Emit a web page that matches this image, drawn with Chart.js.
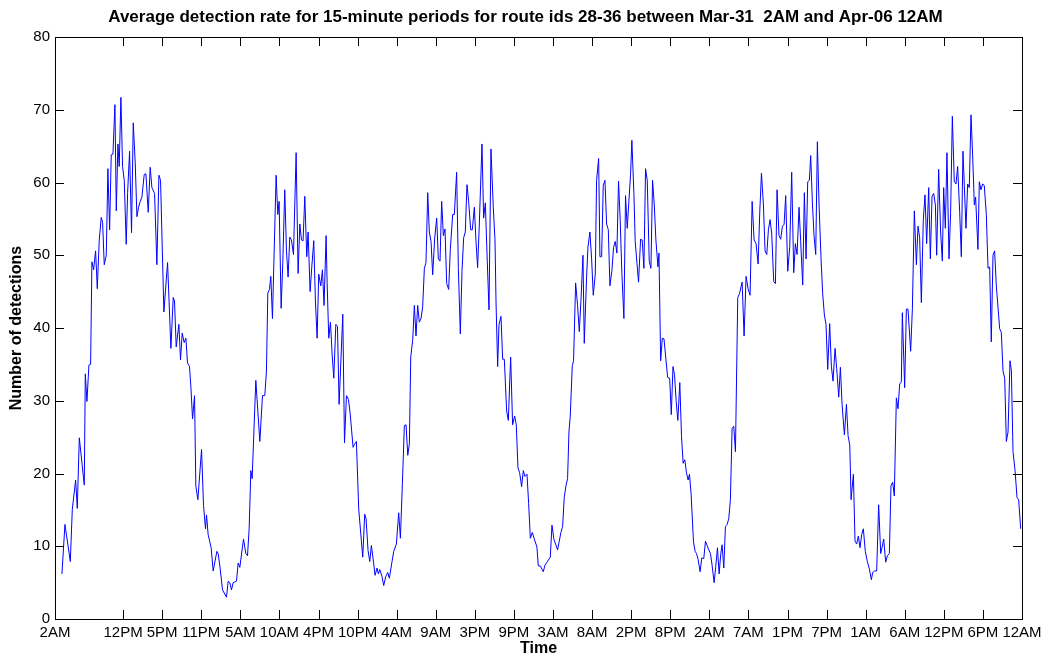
<!DOCTYPE html>
<html>
<head>
<meta charset="UTF-8">
<title>Average detection rate</title>
<script src="https://cdn.jsdelivr.net/npm/chart.js"></script>
<style>
    body { margin: 0; background: #ffffff; }
    canvas { display: block; }
</style>
</head>
<body>
<canvas id="rateChart" width="1051" height="658"></canvas>
<script>
const hours = [
    1.02,1.46,2.25,2.54,3.03,3.27,3.57,4.30,4.45,4.69,4.98,5.23,5.42,5.67,5.96,6.21,6.50,6.79,6.99,7.23,7.53,7.77,8.02,8.26,8.51,8.80,9.00,9.24,9.43,9.68,9.92,10.17,10.46,10.66,10.95,11.24,11.49,11.78,12.03,12.27,12.52,
    12.76,13.10,13.35,13.69,13.98,14.23,14.62,14.96,15.26,15.50,15.99,16.53,17.02,17.36,17.55,17.80,18.19,18.43,18.68,18.97,19.22,19.46,19.75,19.95,20.20,20.49,20.68,20.98,21.52,21.81,22.10,22.25,22.49,22.93,23.23,23.77,23.96,24.26,24.60,25.18,
    25.43,25.67,25.92,26.16,26.65,26.90,27.14,27.68,28.02,28.27,28.51,28.76,28.95,29.49,30.08,30.47,30.81,31.05,31.25,31.49,31.69,31.93,32.47,32.72,32.91,33.21,33.45,33.74,33.99,34.23,34.48,34.72,35.02,35.41,35.70,35.95,36.19,36.43,36.68,36.97,37.17,37.46,37.71,38.00,38.24,38.49,
    38.73,39.03,39.27,39.51,39.81,39.96,40.20,40.45,40.70,40.94,41.24,41.48,41.72,42.26,42.51,42.80,43.09,43.34,43.77,43.97,44.26,44.60,45.19,45.48,45.68,45.97,46.22,46.46,46.71,47.00,47.29,47.49,47.69,48.03,48.27,48.56,48.86,49.10,49.49,49.74,50.13,50.47,50.72,51.01,51.30,51.55,
    51.80,52.04,52.24,52.53,52.77,53.01,53.26,53.50,53.75,53.99,54.24,54.48,54.73,54.97,55.22,55.46,55.76,56.05,56.29,56.54,56.78,57.03,57.27,57.52,57.81,58.05,58.40,58.64,58.98,59.23,59.52,59.77,60.01,60.25,60.50,60.74,61.04,61.28,61.58,61.82,62.06,62.31,62.70,62.94,63.19,63.48,63.73,64.02,64.36,64.61,
    64.76,65.00,65.20,65.49,65.74,65.98,66.32,66.57,66.91,67.20,67.50,67.74,67.98,68.23,68.52,68.77,69.01,69.31,69.55,69.80,70.09,70.38,70.77,70.97,71.27,71.70,71.95,72.24,72.73,72.98,73.27,73.51,73.80,74.05,74.29,74.54,74.78,75.03,75.27,75.47,75.66,75.96,76.15,76.45,76.74,76.99,77.23,77.53,77.72,
    78.06,78.26,78.55,78.80,79.04,79.34,79.53,79.83,80.02,80.27,80.51,80.76,81.00,81.25,81.49,81.78,82.02,82.27,82.51,82.75,83.00,83.24,83.54,83.78,84.03,84.27,84.52,84.71,85.01,85.20,85.45,85.69,85.99,86.23,86.48,86.72,86.97,87.26,87.51,87.75,88.00,88.24,88.54,88.69,88.94,89.18,89.43,89.65,89.97,90.26,90.50,90.75,
    90.97,91.22,91.46,91.75,92.00,92.24,92.48,92.73,92.97,93.17,93.41,93.76,94.00,94.20,94.44,94.73,94.98,95.27,95.52,95.76,96.01,96.25,96.49,96.79,97.03,97.28,97.52,97.77,97.96,98.21,98.45,98.70,98.94,99.18,99.43,99.67,99.92,100.26,100.51,100.90,101.19,101.48,101.78,102.07,102.37,102.66,102.95,103.25,103.49,103.74,
    104.03,104.27,104.52,104.76,105.01,105.25,105.54,105.79,106.03,106.32,106.57,106.81,107.06,107.30,107.60,107.89,108.18,108.48,108.72,108.97,109.26,109.50,109.80,110.04,110.29,110.53,110.78,110.97,111.22,111.46,111.71,111.95,112.20,112.49,112.73,112.98,113.22,113.47,113.76,114.01,114.25,114.55,114.79,115.09,115.33,115.58,115.92,116.22,116.46,116.71,116.90,
    117.24,117.48,117.72,117.97,118.21,118.46,118.70,118.99,119.29,119.58,119.88,120.07,120.37,120.66,120.95,121.25,121.44,121.69,121.98,122.23,122.52,122.76,123.01,123.25,123.55,123.79,124.04,124.28,124.43,124.77,125.02,125.26,125.65,125.90,126.19,126.49,126.73,126.97,127.22,127.51,127.76,128.00,128.30,128.54,128.79,129.03,129.28,129.47,129.76,
    130.05,130.30,130.50,130.74,130.98,131.28,131.52,131.77,132.06,132.31,132.55,132.85,133.09,133.33,133.53,133.77,134.02,134.26,134.51,134.75,135.00,135.19,135.53,135.73,135.97,136.22,136.46,136.76,137.01,137.25,137.49,137.74,137.98,138.23,138.72,138.96,139.21,139.46,139.70,139.95,140.24,140.44,140.68,140.98,141.27,141.51,141.81
];

// number of detections at each of those times
const detections = [
    6.2,13.0,7.9,15.1,19.1,15.2,24.9,18.4,33.7,29.9,34.9,35.0,49.1,48.0,50.6,45.4,52.1,55.2,54.5,48.7,50.0,61.9,53.5,63.8,63.9,70.7,56.1,65.3,62.2,71.7,62.2,60.3,51.5,58.5,64.3,53.1,68.2,62.7,55.3,56.6,57.4,
    58.0,61.1,61.2,55.9,62.1,59.3,58.5,48.7,61.0,60.3,42.2,49.0,37.2,44.2,43.7,37.4,40.5,35.6,39.3,38.0,38.6,35.2,34.7,32.0,27.5,30.7,18.3,16.4,23.3,15.6,12.4,14.3,11.6,9.8,6.6,9.3,9.0,6.9,4.0,3.0,
    5.2,5.0,4.0,5.0,5.2,7.7,7.1,11.0,9.0,8.7,12.4,20.4,19.3,32.8,24.4,30.7,30.7,34.1,44.8,45.3,47.1,41.3,61.0,55.6,57.4,42.7,49.0,59.0,50.6,47.0,52.5,52.1,50.1,64.1,47.5,54.3,52.1,52.0,58.1,49.8,53.2,45.0,48.4,52.0,43.7,38.6,
    47.4,45.8,48.0,43.1,52.7,46.3,38.6,40.8,36.3,33.1,40.5,40.2,29.5,41.9,24.2,30.7,30.2,28.3,23.6,24.0,24.4,15.1,8.5,14.4,13.8,9.4,7.9,10.1,8.3,6.0,7.0,6.2,6.8,5.8,4.6,5.8,6.4,5.6,7.9,9.3,10.3,14.6,11.1,18.5,26.6,26.7,
    22.5,24.1,36.0,38.4,43.1,38.9,43.1,40.8,41.3,42.9,48.2,49.0,58.6,53.2,51.9,47.3,52.4,55.1,49.5,49.2,57.4,52.7,53.6,46.1,45.3,50.8,55.6,55.6,61.4,48.2,39.2,47.9,52.4,53.2,59.7,57.4,53.5,53.5,56.6,51.9,48.3,54.3,65.3,55.1,57.2,49.1,42.5,64.6,56.6,52.1,
    43.7,34.7,40.5,41.6,35.7,35.7,28.6,27.3,36.0,26.7,27.9,26.7,20.8,20.1,18.2,20.4,19.6,19.9,15.9,11.1,11.9,11.0,9.9,7.3,7.3,6.5,7.4,7.8,8.5,12.9,10.9,10.3,9.5,10.7,11.9,12.7,16.7,18.3,19.3,25.7,27.8,34.8,35.5,46.2,43.1,39.5,43.7,50.0,37.9,
    46.9,51.1,53.2,49.5,44.5,47.4,60.3,63.3,49.8,49.8,59.6,60.3,54.3,53.5,45.8,47.9,51.1,51.9,50.3,60.2,54.8,47.6,41.3,58.2,53.7,57.4,61.1,65.8,58.5,51.9,49.0,46.3,52.2,52.1,48.2,61.9,60.3,49.2,48.2,60.3,56.9,52.1,48.4,50.3,35.5,38.6,38.5,36.3,33.2,33.1,28.1,34.7,
    33.6,29.9,27.3,32.5,25.1,21.4,21.9,20.1,19.1,19.9,17.2,10.6,9.3,9.0,8.2,6.5,8.4,8.3,10.7,10.1,9.5,9.0,7.4,5.0,7.2,9.8,6.2,9.0,10.2,7.0,12.7,13.0,13.8,16.4,26.2,26.5,23.0,44.2,44.7,46.3,38.9,47.1,45.4,44.5,57.4,52.1,51.6,48.8,55.9,61.3,
    56.9,50.6,50.1,53.5,54.9,52.9,46.4,46.1,59.0,52.7,52.2,54.0,54.2,58.2,47.8,51.1,61.4,47.6,51.6,50.1,56.6,51.9,45.9,58.6,49.5,60.1,60.3,63.7,57.2,52.7,50.1,65.6,56.9,49.5,44.7,41.8,40.5,34.3,40.6,34.7,32.7,37.2,34.4,30.5,34.6,29.5,25.3,29.5,25.2,23.9,16.4,
    19.9,10.7,10.3,11.4,9.8,11.6,12.4,9.3,7.9,6.9,5.4,6.4,6.6,6.6,15.7,9.0,9.8,11.0,7.8,8.7,9.0,18.3,18.8,16.9,30.4,28.9,32.3,32.6,42.1,31.8,42.6,42.6,36.8,42.6,56.1,48.7,54.0,52.4,43.5,54.9,58.3,51.6,59.3,49.5,58.1,58.5,56.9,50.0,61.8,
    53.2,49.2,59.3,53.7,64.1,49.5,55.9,69.1,60.1,59.8,62.2,55.9,49.8,64.3,59.6,53.7,59.8,59.3,69.3,63.8,56.9,58.0,50.8,60.1,59.0,59.8,59.6,55.6,48.2,48.4,38.1,50.0,50.6,45.8,39.9,39.4,34.1,33.1,24.4,25.7,35.5,34.1,23.0,20.4,16.7,16.4,12.4
];

// x tick positions (hours) and their labels
const tickHours = [0, 10, 15.74, 21.48, 27.22, 32.96, 38.70, 44.43, 50.17, 55.91, 61.65, 67.39, 73.13,
    78.87, 84.61, 90.35, 96.09, 101.83, 107.57, 113.30, 119.04, 124.78, 130.52, 136.26, 142];
const tickLabels = ['2AM', '12PM', '5PM', '11PM', '5AM', '10AM', '4PM', '10PM', '4AM', '9AM', '3PM', '9PM', '3AM',
    '8AM', '2PM', '8PM', '2AM', '7AM', '1PM', '7PM', '1AM', '6AM', '12PM', '6PM', '12AM'];
const yTicks = [0, 10, 20, 30, 40, 50, 60, 70, 80];

Chart.defaults.font.family = "'Liberation Sans', Arial, Helvetica, sans-serif";
Chart.defaults.color = '#000000';

// box round the plot with inward ticks on all four sides
const boxPlugin = {
    id: 'boxPlugin',
    afterDatasetsDraw(chart) {
        const ctx = chart.ctx;
        const a = chart.chartArea;
        const xs = chart.scales.x;
        const ys = chart.scales.y;
        const len = 9;
        ctx.save();
        ctx.strokeStyle = '#000000';
        ctx.lineWidth = 1;
        ctx.beginPath();
        tickHours.forEach(v => {
            const px = Math.round(xs.getPixelForValue(v)) + 0.5;
            ctx.moveTo(px, a.bottom); ctx.lineTo(px, a.bottom - len);
            ctx.moveTo(px, a.top); ctx.lineTo(px, a.top + len);
        });
        yTicks.forEach(v => {
            const py = Math.round(ys.getPixelForValue(v)) + 0.5;
            ctx.moveTo(a.left, py); ctx.lineTo(a.left + len, py);
            ctx.moveTo(a.right, py); ctx.lineTo(a.right - len, py);
        });
        ctx.stroke();
        ctx.strokeRect(Math.round(a.left) + 0.5, Math.round(a.top) + 0.5,
            Math.round(a.right - a.left), Math.round(a.bottom - a.top));
        ctx.restore();
    }
};

const ctx = document.getElementById('rateChart').getContext('2d');
new Chart(ctx, {
    type: 'line',
    data: {
        datasets: [{
            data: hours.map((h, i) => ({ x: h, y: detections[i] })),
            borderColor: '#0000ff',
            borderWidth: 1,
            pointRadius: 0,
            tension: 0,
            fill: false
        }]
    },
    options: {
        responsive: false,
        devicePixelRatio: 1,
        animation: false,
        layout: { padding: 0 },
        plugins: {
            legend: { display: false },
            tooltip: { enabled: false },
            title: {
                display: true,
                text: 'Average detection rate for 15-minute periods for route ids 28-36 between Mar-31  2AM and Apr-06 12AM',
                font: { size: 17, weight: 'bold' },
                color: '#000000',
                padding: { top: 7, bottom: 9.6 }
            }
        },
        scales: {
            x: {
                type: 'linear',
                min: 0,
                max: 142,
                afterFit: s => { s.height = 39; },
                afterBuildTicks: s => { s.ticks = tickHours.map(v => ({ value: v })); },
                grid: { display: false, drawTicks: false },
                border: { display: false },
                ticks: {
                    autoSkip: false,
                    maxRotation: 0,
                    minRotation: 0,
                    padding: 5,
                    font: { size: 15 },
                    callback: (value, index) => tickLabels[index]
                },
                title: {
                    display: true,
                    text: 'Time',
                    font: { size: 16, weight: 'bold' },
                    padding: { top: 0, bottom: 0 }
                }
            },
            y: {
                min: 0,
                max: 80,
                afterFit: s => { s.width = 55; },
                grid: { display: false, drawTicks: false },
                border: { display: false },
                ticks: { stepSize: 10, padding: 5, font: { size: 15 } },
                title: {
                    display: true,
                    text: 'Number of detections',
                    font: { size: 16, weight: 'bold' },
                    padding: { top: 7, bottom: 0 }
                }
            },
            yRight: {
                position: 'right',
                display: true,
                afterFit: s => { s.width = 29; },
                grid: { display: false, drawTicks: false },
                border: { display: false },
                ticks: { display: false }
            }
        }
    },
    plugins: [boxPlugin]
});
</script>
</body>
</html>
